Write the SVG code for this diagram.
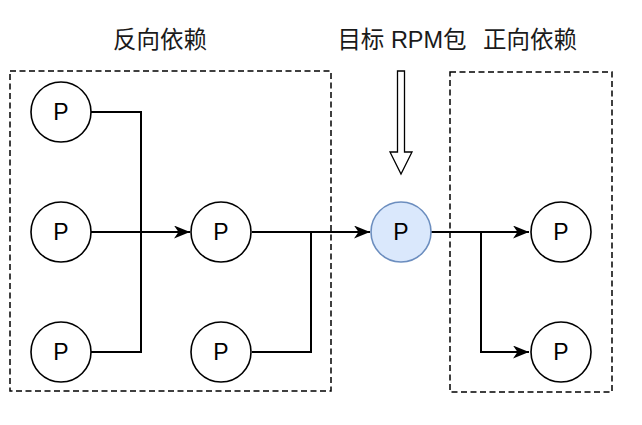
<svg xmlns="http://www.w3.org/2000/svg" width="642" height="425" viewBox="0 0 642 425">
<style>
.box{fill:none;stroke:#000;stroke-width:1.5;stroke-dasharray:6 3.5}
.node{fill:#fff;stroke:#000;stroke-width:1.6}
.target{fill:#dae8fc;stroke:#6c8ebf;stroke-width:1.6}
.lbl{font-family:"Liberation Sans","Noto Sans CJK SC",sans-serif;font-size:23px;fill:#000;text-anchor:middle}
.title{font-family:"Liberation Sans","Noto Sans CJK SC",sans-serif;font-size:23.5px;fill:#1a1a1a;text-anchor:middle}
.edge{fill:none;stroke:#000;stroke-width:2}
</style>
<defs>
<marker id="ah" viewBox="0 0 17 13" refX="16" refY="6.5" markerWidth="17" markerHeight="13" markerUnits="userSpaceOnUse" orient="auto">
<path d="M16 6.5 L0 0 L4.5 6.5 L0 13 Z" fill="#000"/>
</marker>
</defs>
<rect class="box" x="10" y="71" width="321" height="320"/>
<rect class="box" x="450" y="72" width="162" height="320"/>
<text class="title" x="160" y="48">反向依赖</text>
<text class="title" x="402" y="48">目标 RPM包</text>
<text class="title" x="530" y="48">正向依赖</text>
<path d="M397.5 71 H404.5 V152 H412 L401 174 L390 152 H397.5 Z" fill="#fff" stroke="#000" stroke-width="1.3"/>
<g id="connectors">
<path class="edge" d="M91 112 H141 V352 H91"/>
<path class="edge" d="M91 232 H190" marker-end="url(#ah)"/>
<path class="edge" d="M252 232 H370" marker-end="url(#ah)"/>
<path class="edge" d="M252 352 H311 V232"/>
<path class="edge" d="M431 232 H529" marker-end="url(#ah)"/>
<path class="edge" d="M481 232 V352 H529" marker-end="url(#ah)"/>
</g>
<g id="p1"><circle class="node" cx="61" cy="112" r="30"/><text class="lbl" x="61" y="120">P</text></g>
<g id="p2"><circle class="node" cx="61" cy="232" r="30"/><text class="lbl" x="61" y="240">P</text></g>
<g id="p3"><circle class="node" cx="61" cy="352" r="30"/><text class="lbl" x="61" y="360">P</text></g>
<g id="p4"><circle class="node" cx="221" cy="232" r="30"/><text class="lbl" x="221" y="240">P</text></g>
<g id="p5"><circle class="node" cx="221" cy="352" r="30"/><text class="lbl" x="221" y="360">P</text></g>
<g id="target"><circle class="target" cx="401" cy="232" r="30"/><text class="lbl" x="401" y="240">P</text></g>
<g id="p6"><circle class="node" cx="561" cy="232" r="30"/><text class="lbl" x="561" y="240">P</text></g>
<g id="p7"><circle class="node" cx="561" cy="352" r="30"/><text class="lbl" x="561" y="360">P</text></g>
</svg>
